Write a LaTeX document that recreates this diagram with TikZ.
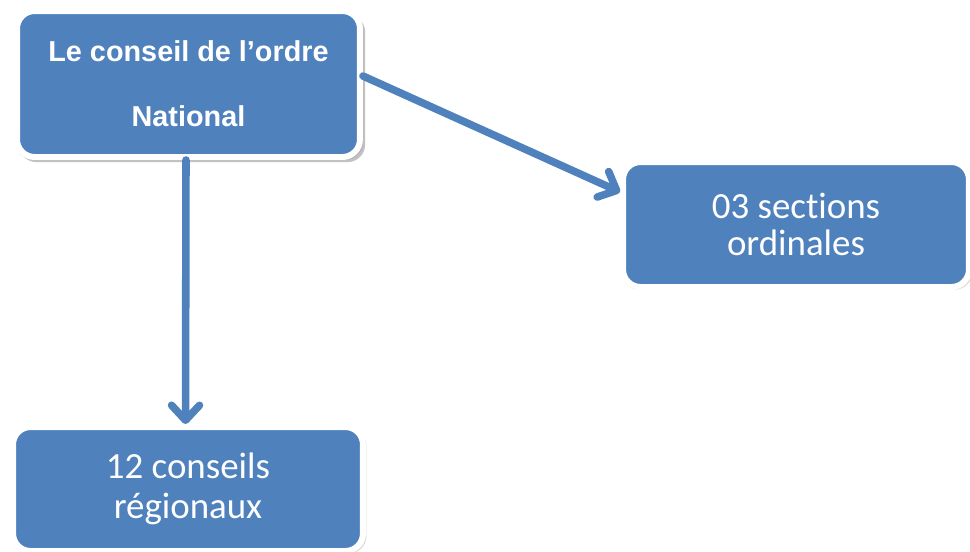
\documentclass[tikz,border=0pt]{standalone}
\usepackage{fontspec}
\setmainfont{Liberation Sans}
\newfontfamily\calib[Ligatures=NoCommon]{Carlito}
\usetikzlibrary{arrows.meta,shadows}
\definecolor{boxblue}{HTML}{4F81BD}

\begin{document}
\begin{tikzpicture}[x=0.02cm, y=-0.02cm,
    box/.style = {rectangle, rounded corners=10pt, fill=boxblue, draw=white,
                  line width=3.4pt, text=white, align=center, inner sep=0pt,
                  drop shadow={shadow xshift=0.5pt, shadow yshift=-1pt, fill=gray!70,
                               shadow scale=1.015, opacity=0.4}},
    link/.style = {draw=boxblue, line width=4.3pt, line cap=round,
                   -{Straight Barb[length=3mm, width=5.6mm, round]}}]
  \useasboundingbox (0,0) rectangle (970,551);
  \node[box, minimum width=6.86cm, minimum height=2.92cm,
        drop shadow={shadow xshift=2pt, shadow yshift=-2.5pt, fill=gray!80,
                     shadow scale=1.01, opacity=0.6},
        font=\bfseries\fontsize{16.4}{37}\selectfont] (national) at (188.5,84)
        {Le conseil de l’ordre\\National};
  \node[box, minimum width=6.92cm, minimum height=2.5cm,
        font=\calib\fontsize{21}{21.5}\selectfont] (sections) at (796,224.5)
        {03 sections\\ordinales};
  \node[box, minimum width=7cm, minimum height=2.48cm,
        font=\calib\fontsize{21}{22.5}\selectfont] (regions) at (188,489)
        {12 conseils\\régionaux};
  \draw[link] ([yshift=0.16cm]national.east) -- ([yshift=0.65cm]sections.west);
  \draw[link] ([xshift=-0.05cm]national.south) -- ([xshift=-0.05cm]regions.north);
\end{tikzpicture}
\end{document}
